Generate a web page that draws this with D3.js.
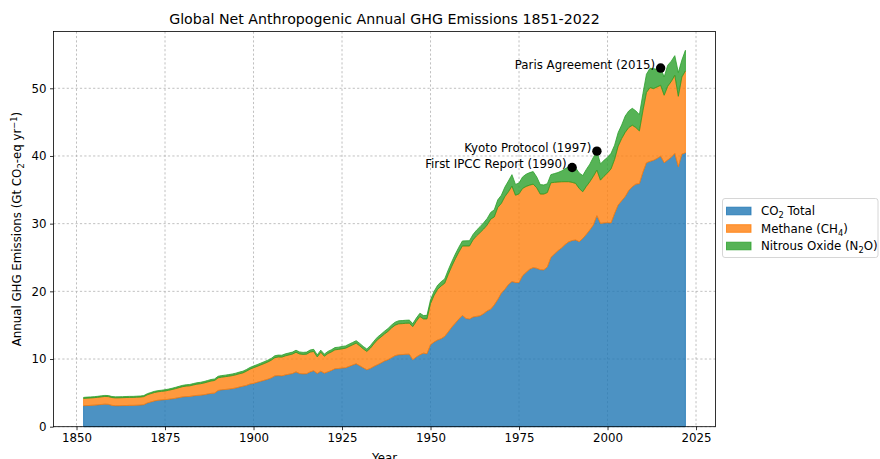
<!DOCTYPE html>
<html>
<head>
<meta charset="utf-8">
<script src="https://cdn.jsdelivr.net/npm/d3@7"></script>
<style>
  body { margin: 0; background: #fff; }
  svg { display: block; font-family: "DejaVu Sans", sans-serif; }
</style>
</head>
<body>
<main></main>
<script>
// years 1852..2022, one value per year (Gt CO2-eq / yr)
const firstYear = 1852;
const lastYear = 2022;

const co2 = [
  3.10, 3.12, 3.15, 3.18, 3.22, 3.28, 3.33, 3.30,
  3.15, 3.10, 3.10, 3.12, 3.13, 3.15, 3.15, 3.17, 3.19, 3.25,
  3.50, 3.65, 3.80, 3.90, 3.95, 4.00, 4.05, 4.12, 4.20, 4.30,
  4.40, 4.45, 4.47, 4.55, 4.62, 4.65, 4.72, 4.82, 4.92, 4.96,
  5.35, 5.45, 5.50, 5.55, 5.62, 5.72, 5.85, 5.98, 6.10, 6.30,
  6.40, 6.55, 6.70, 6.85, 7.00, 7.20, 7.50, 7.55, 7.50, 7.65,
  7.75, 7.85, 8.10, 7.85, 7.80, 7.82, 8.10, 8.26, 7.85, 8.20,
  7.90, 8.10, 8.30, 8.56, 8.60, 8.66, 8.70, 8.90, 9.10, 9.30,
  9.00, 8.70, 8.41, 8.60, 8.90, 9.15, 9.40, 9.70, 9.89, 10.20,
  10.50, 10.62, 10.65, 10.70, 10.72, 9.89, 10.30, 10.62, 10.87, 10.77,
  12.10, 12.50, 12.80, 13.00, 13.33, 14.00, 14.70, 15.30, 15.90, 16.43,
  16.00, 15.90, 16.20, 16.30, 16.38, 16.70, 17.10, 17.36, 17.99, 18.80,
  19.72, 20.30, 21.00, 21.44, 21.30, 21.30, 22.30, 22.80, 23.26, 23.50,
  23.40, 23.20, 23.16, 23.60, 25.00, 25.50, 26.00, 26.40, 26.90, 27.30,
  27.50, 27.58, 27.34, 27.80, 28.40, 29.06, 29.80, 31.17, 30.04, 30.10,
  30.14, 30.10, 31.50, 32.74, 33.38, 34.00, 34.90, 35.45, 35.84, 35.90,
  37.60, 38.99, 39.20, 39.35, 39.63, 39.97, 38.99, 39.40, 39.80, 40.37,
  38.40, 40.27, 40.46
];

const methane = [
  1.08, 1.10, 1.10, 1.11, 1.12, 1.13, 1.14, 1.15,
  1.16, 1.16, 1.17, 1.17, 1.18, 1.18, 1.18, 1.19, 1.19, 1.20,
  1.22, 1.24, 1.25, 1.26, 1.27, 1.28, 1.33, 1.38, 1.43, 1.48,
  1.52, 1.55, 1.57, 1.62, 1.66, 1.70, 1.74, 1.78, 1.83, 1.87,
  1.87, 1.87, 1.89, 1.91, 1.93, 1.95, 1.97, 1.97, 2.10, 2.20,
  2.31, 2.36, 2.42, 2.48, 2.55, 2.62, 2.70, 2.75, 2.78, 2.82,
  2.85, 2.88, 2.90, 2.90, 2.88, 2.90, 2.92, 2.86, 2.46, 2.80,
  2.51, 2.70, 2.75, 2.80, 2.82, 2.85, 2.90, 2.95, 3.00, 3.05,
  2.95, 2.80, 2.71, 3.00, 3.35, 3.69, 3.85, 4.00, 4.20, 4.40,
  4.50, 4.58, 4.58, 4.58, 4.58, 4.90, 5.30, 5.66, 5.06, 5.16,
  6.10, 6.90, 7.50, 7.80, 7.86, 8.50, 9.00, 9.50, 9.90, 10.27,
  10.70, 10.80, 11.40, 11.90, 12.30, 12.50, 12.70, 13.30, 13.00, 13.60,
  13.27, 13.70, 13.70, 14.10, 12.90, 13.10, 12.90, 12.70, 12.43, 12.34,
  11.90, 11.17, 11.21, 11.00, 11.04, 10.60, 10.15, 9.79, 9.30, 8.90,
  8.60, 8.36, 7.86, 6.91, 7.10, 7.13, 7.20, 6.74, 6.39, 6.90,
  7.36, 8.00, 8.00, 8.71, 9.20, 9.50, 9.30, 9.09, 8.36, 7.80,
  9.10, 10.40, 10.90, 10.60, 10.57, 10.47, 9.98, 10.90, 11.20, 11.55,
  10.42, 11.40, 12.10
];

const n2o = [
  0.15, 0.15, 0.15, 0.15, 0.15, 0.15, 0.15, 0.15,
  0.15, 0.15, 0.15, 0.15, 0.15, 0.15, 0.15, 0.15, 0.15, 0.15,
  0.16, 0.16, 0.17, 0.17, 0.17, 0.18, 0.18, 0.18, 0.19, 0.19,
  0.19, 0.20, 0.20, 0.20, 0.21, 0.21, 0.21, 0.22, 0.22, 0.22,
  0.23, 0.23, 0.23, 0.24, 0.24, 0.24, 0.25, 0.25, 0.25, 0.25,
  0.26, 0.26, 0.26, 0.27, 0.27, 0.27, 0.28, 0.28, 0.28, 0.29,
  0.29, 0.29, 0.30, 0.30, 0.30, 0.30, 0.31, 0.31, 0.30, 0.31,
  0.31, 0.32, 0.32, 0.33, 0.33, 0.34, 0.34, 0.35, 0.35, 0.36,
  0.36, 0.36, 0.36, 0.37, 0.38, 0.39, 0.40, 0.41, 0.42, 0.43,
  0.44, 0.45, 0.45, 0.45, 0.45, 0.44, 0.46, 0.48, 0.50, 0.52,
  0.55, 0.58, 0.60, 0.62, 0.64, 0.66, 0.68, 0.70, 0.72, 0.74,
  0.76, 0.78, 0.80, 0.84, 0.88, 0.92, 0.96, 1.00, 1.05, 1.12,
  1.20, 1.40, 1.60, 1.70, 1.60, 1.60, 1.70, 1.80, 1.85, 1.85,
  1.60, 1.40, 1.35, 1.30, 1.20, 1.30, 1.40, 1.60, 1.90, 2.20,
  2.20, 2.30, 2.30, 2.40, 2.50, 2.60, 2.80, 2.80, 2.40, 2.35,
  2.30, 2.30, 2.10, 2.00, 2.00, 2.40, 2.46, 2.50, 2.46, 2.40,
  2.50, 2.70, 2.85, 2.95, 2.60, 2.55, 2.70, 3.10, 3.00, 2.90,
  3.50, 2.50, 3.05
];

const seriesNames = ["co2", "methane", "n2o"];
const legendLabels = [
  ["CO", "2", " Total"],
  ["Methane (CH", "4", ")"],
  ["Nitrous Oxide (N", "2", "O)"]
];
const events = [
  {year: 1990, label: "First IPCC Report (1990)"},
  {year: 1997, label: "Kyoto Protocol (1997)"},
  {year: 2015, label: "Paris Agreement (2015)"}
];
const xTicks = [1850, 1875, 1900, 1925, 1950, 1975, 2000, 2025];
const yTicks = [0, 10, 20, 30, 40, 50];

const W = 880, H = 459;
const margin = {top: 31.5, right: 164.5, bottom: 32.3, left: 53.5};
const colors = ["#1f77b4", "#ff7f0e", "#2ca02c"];
const fs = 11.8, fsSub = 8.3;

const years = d3.range(firstYear, lastYear + 1);
const table = years.map((y, i) => ({year: y, co2: co2[i], methane: methane[i], n2o: n2o[i]}));

const stack = d3.stack().keys(seriesNames);
const layers = stack(table);
const maxTotal = d3.max(layers[2], d => d[1]);

// matplotlib-like 5% margins on x, y starts at 0
const xPad = (lastYear - firstYear) * 0.05;
const x = d3.scaleLinear()
  .domain([firstYear - xPad, lastYear + xPad])
  .range([margin.left, W - margin.right]);
const y = d3.scaleLinear()
  .domain([0, maxTotal * 1.05])
  .range([H - margin.bottom, margin.top]);

const svg = d3.select("main").append("svg")
  .attr("width", W)
  .attr("height", H)
  .attr("viewBox", `0 0 ${W} ${H}`);

// grid
const grid = svg.append("g")
  .attr("stroke", "#b0b0b0")
  .attr("stroke-width", 0.8)
  .attr("stroke-dasharray", "2.2,2.2");
grid.selectAll("line.gx").data(xTicks).join("line")
  .attr("x1", d => x(d)).attr("x2", d => x(d))
  .attr("y1", margin.top).attr("y2", H - margin.bottom);
grid.selectAll("line.gy").data(yTicks).join("line")
  .attr("class", "gy")
  .attr("x1", margin.left).attr("x2", W - margin.right)
  .attr("y1", d => y(d)).attr("y2", d => y(d));

// stacked areas
const area = d3.area()
  .x(d => x(d.data.year))
  .y0(d => y(d[0]))
  .y1(d => y(d[1]));

svg.append("g")
  .selectAll("path")
  .data(layers)
  .join("path")
    .attr("d", area)
    .attr("fill", (d, i) => colors[i])
    .attr("fill-opacity", 0.8)
    .attr("stroke", (d, i) => colors[i])
    .attr("stroke-opacity", 0.8)
    .attr("stroke-width", 1)
    .attr("stroke-linejoin", "round");

// event markers on top of the total
const totalByYear = new Map(table.map(d => [d.year, d.co2 + d.methane + d.n2o]));
const ev = svg.append("g").selectAll("g").data(events).join("g")
  .attr("transform", d => `translate(${x(d.year)},${y(totalByYear.get(d.year))})`);
ev.append("circle").attr("r", 4.7).attr("fill", "#000");
ev.append("text")
  .attr("x", -5.5)
  .attr("y", 0.5)
  .attr("text-anchor", "end")
  .attr("font-size", fs)
  .attr("fill", "#000")
  .text(d => d.label);

// axes
const xAxis = g => g
  .attr("transform", `translate(0,${H - margin.bottom})`)
  .call(d3.axisBottom(x).tickValues(xTicks).tickFormat(d3.format("d")).tickSize(3.5).tickPadding(3.5))
  .call(g => g.select(".domain").remove());
const yAxis = g => g
  .attr("transform", `translate(${margin.left},0)`)
  .call(d3.axisLeft(y).tickValues(yTicks).tickSize(3.5).tickPadding(3.5))
  .call(g => g.select(".domain").remove());

svg.append("g").call(xAxis)
  .attr("font-size", fs).attr("font-family", "DejaVu Sans")
  .call(g => g.selectAll("line").attr("stroke", "#000").attr("stroke-width", 0.8))
  .call(g => g.selectAll("text").attr("fill", "#000"));
svg.append("g").call(yAxis)
  .attr("font-size", fs).attr("font-family", "DejaVu Sans")
  .call(g => g.selectAll("line").attr("stroke", "#000").attr("stroke-width", 0.8))
  .call(g => g.selectAll("text").attr("fill", "#000"));

// spines
svg.append("rect")
  .attr("x", margin.left).attr("y", margin.top)
  .attr("width", W - margin.right - margin.left)
  .attr("height", H - margin.bottom - margin.top)
  .attr("fill", "none")
  .attr("stroke", "#000")
  .attr("stroke-width", 0.8);

// title and labels
const cx = (margin.left + W - margin.right) / 2;
svg.append("text")
  .attr("x", cx).attr("y", 24)
  .attr("text-anchor", "middle")
  .attr("font-size", 14.2)
  .text("Global Net Anthropogenic Annual GHG Emissions 1851-2022");

svg.append("text")
  .attr("x", cx).attr("y", 462)
  .attr("text-anchor", "middle")
  .attr("font-size", fs)
  .text("Year");

const yl = svg.append("text")
  .attr("transform", `translate(21,${(margin.top + H - margin.bottom) / 2}) rotate(-90)`)
  .attr("text-anchor", "middle")
  .attr("font-size", fs);
yl.append("tspan").text("Annual GHG Emissions (Gt CO");
yl.append("tspan").attr("dy", 3).attr("font-size", fsSub).text("2");
yl.append("tspan").attr("dy", -3).text("-eq yr");
yl.append("tspan").attr("dy", -4.5).attr("font-size", fsSub).text("\u22121");
yl.append("tspan").attr("dy", 4.5).text(")");

// legend
const lg = svg.append("g").attr("transform", "translate(722.5,198.5)");
lg.append("rect")
  .attr("width", 155.5).attr("height", 59)
  .attr("rx", 2.5)
  .attr("fill", "#fff")
  .attr("fill-opacity", 0.8)
  .attr("stroke", "#cccccc")
  .attr("stroke-width", 0.8);
const rows = lg.selectAll("g").data(legendLabels).join("g")
  .attr("transform", (d, i) => `translate(0,${12.5 + i * 17.5})`);
rows.append("rect")
  .attr("x", 4).attr("y", -3.8)
  .attr("width", 24.5).attr("height", 7.6)
  .attr("fill", (d, i) => colors[i])
  .attr("fill-opacity", 0.8)
  .attr("stroke", (d, i) => colors[i])
  .attr("stroke-opacity", 0.8)
  .attr("stroke-width", 1);
const lt = rows.append("text")
  .attr("x", 38.5).attr("y", 4.2)
  .attr("font-size", fs);
lt.append("tspan").text(d => d[0]);
lt.append("tspan").attr("dy", 3).attr("font-size", fsSub).text(d => d[1]);
lt.append("tspan").attr("dy", -3).text(d => d[2]);
</script>
</body>
</html>
